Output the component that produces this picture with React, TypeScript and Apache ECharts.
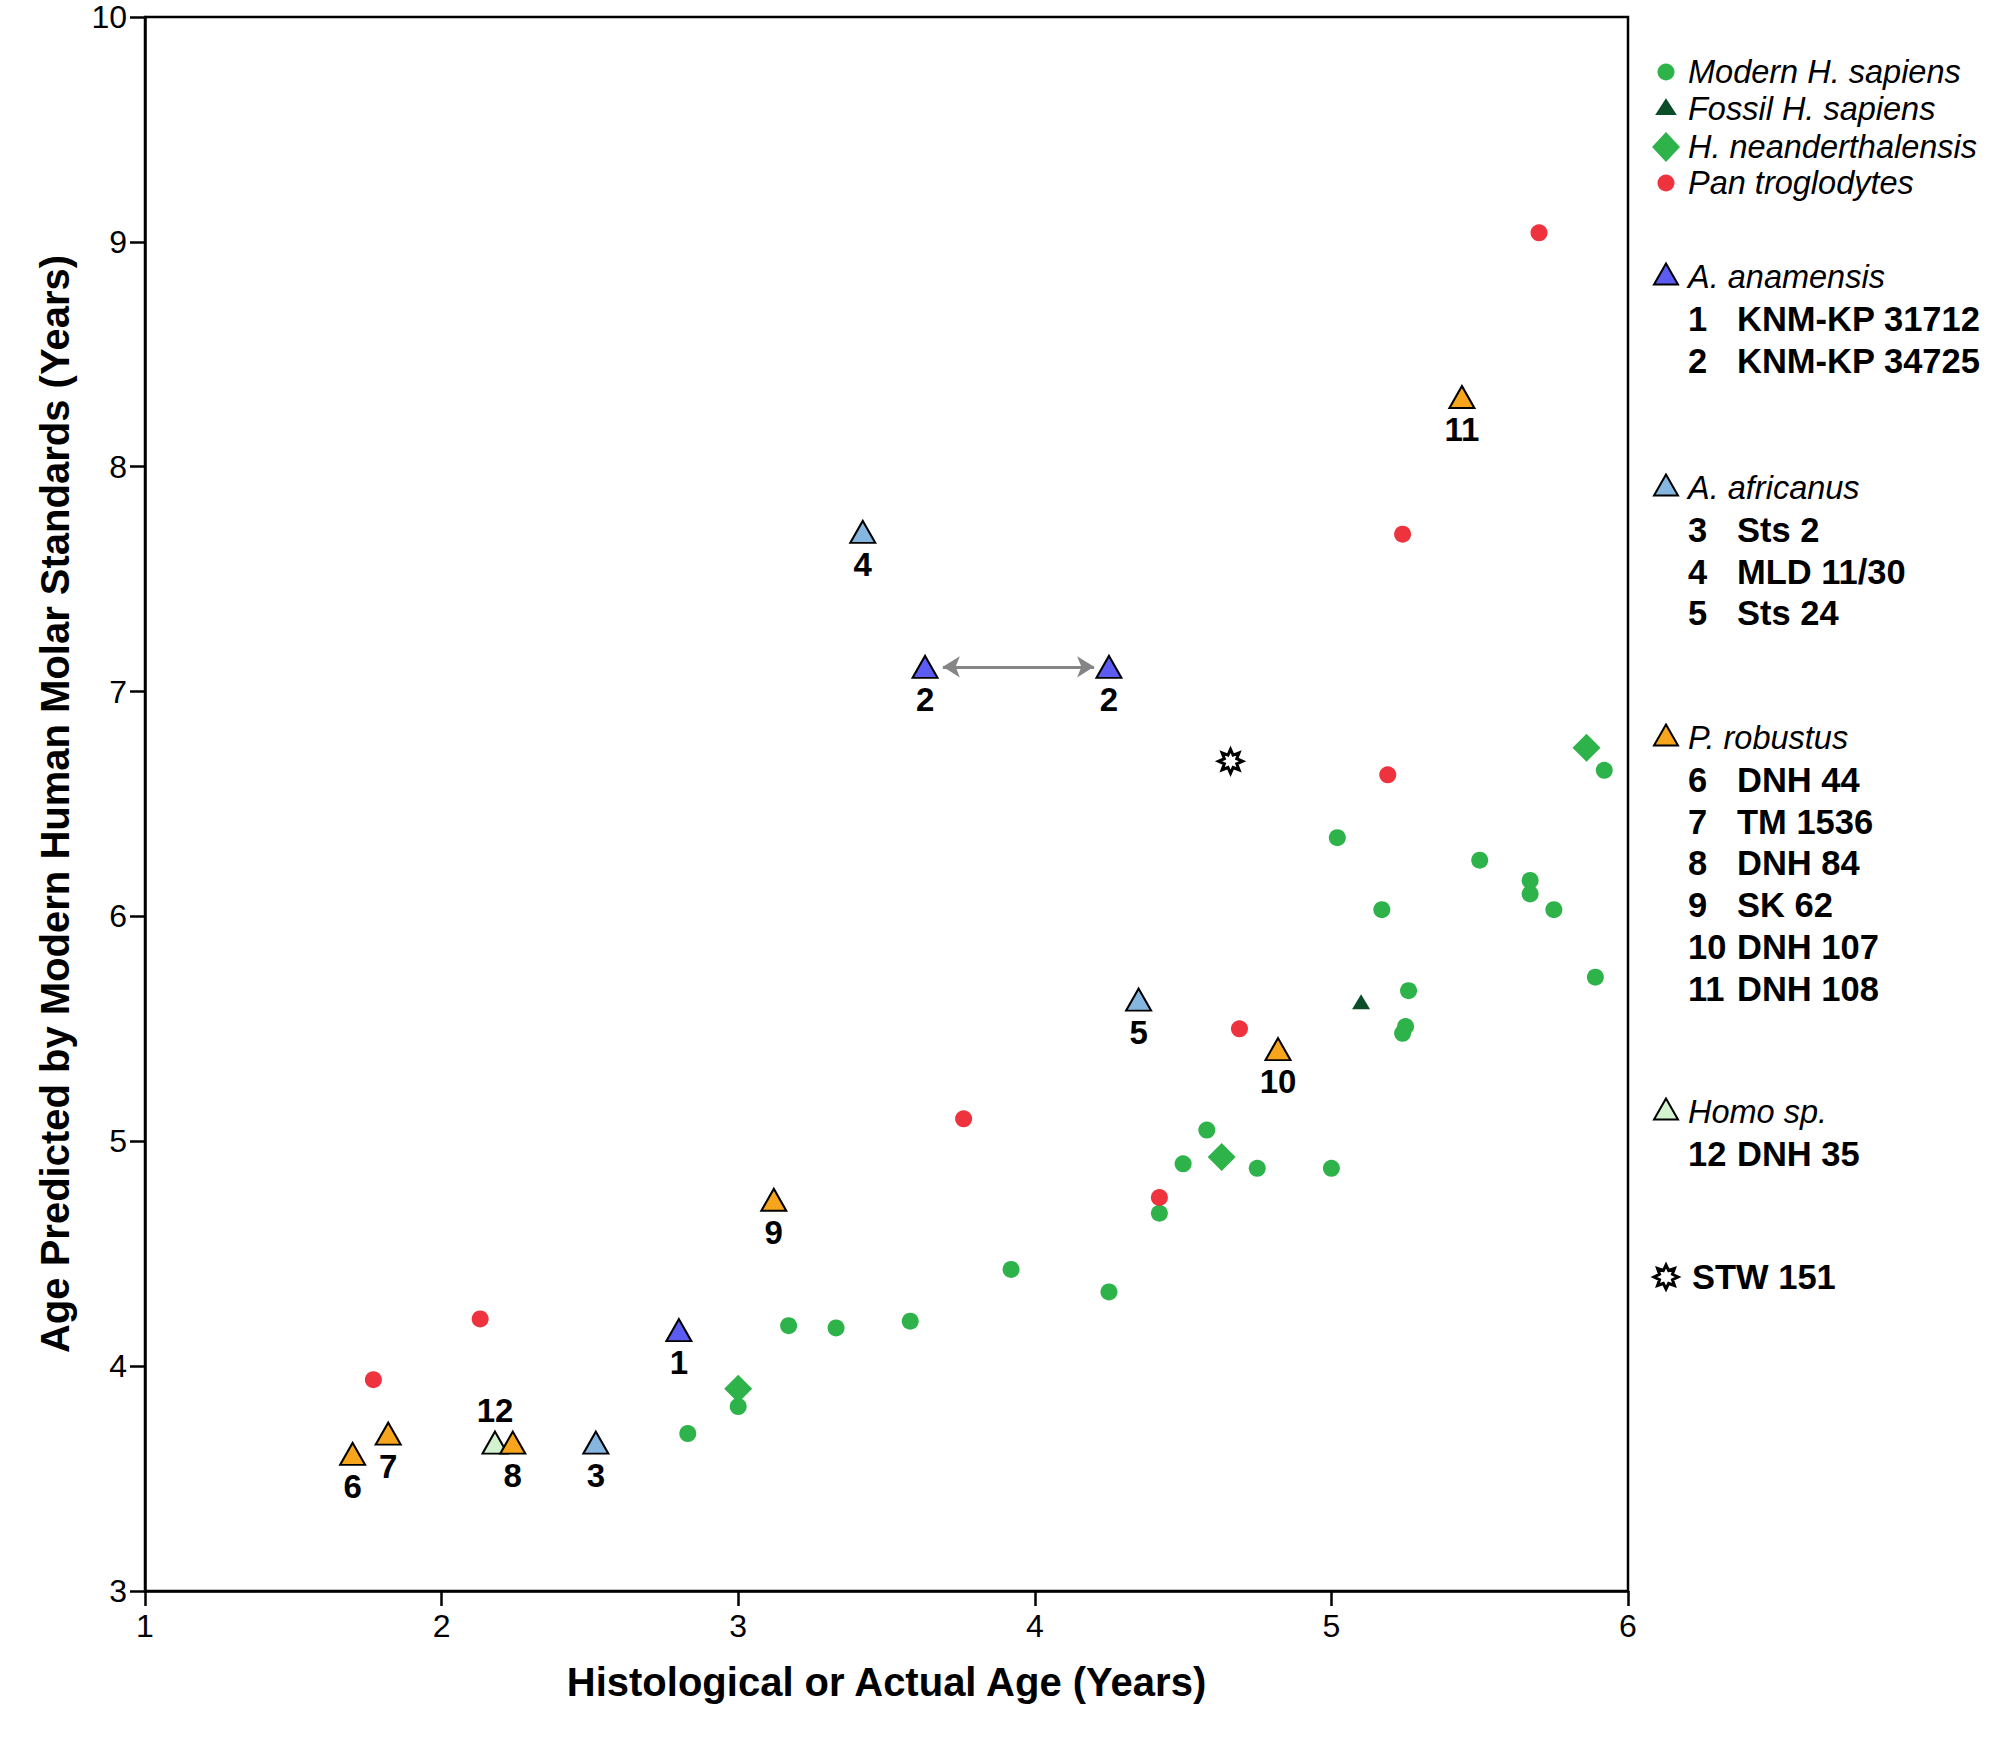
import { useEffect, useRef } from 'react';
import * as echarts from 'echarts';

const FONT = '"Liberation Sans", Arial, Helvetica, sans-serif';

// Modern H. sapiens
const modernX = [2.83, 3.0, 3.17, 3.33, 3.58, 3.92, 4.25, 4.42, 4.5, 4.58, 4.75, 5.0, 5.02, 5.17, 5.26, 5.25, 5.24, 5.5, 5.67, 5.67, 5.75, 5.89, 5.92];
const modernY = [3.7, 3.82, 4.18, 4.17, 4.2, 4.43, 4.33, 4.68, 4.9, 5.05, 4.88, 4.88, 6.35, 6.03, 5.67, 5.51, 5.48, 6.25, 6.16, 6.1, 6.03, 5.73, 6.65];
// Fossil H. sapiens
const fossilX = [5.1];
const fossilY = [5.62];
// H. neanderthalensis
const neanderX = [3.0, 4.63, 5.86];
const neanderY = [3.9, 4.93, 6.75];
// Pan troglodytes
const panX = [1.77, 2.13, 3.76, 4.42, 4.69, 5.19, 5.24, 5.7];
const panY = [3.94, 4.21, 5.1, 4.75, 5.5, 6.63, 7.7, 9.04];
// A. anamensis
const anamX = [2.8, 3.63, 4.25];
const anamY = [4.16, 7.11, 7.11];
const anamLabels = ['1', '2', '2'];
// A. africanus
const afrX = [2.52, 3.42, 4.35];
const afrY = [3.66, 7.71, 5.63];
const afrLabels = ['3', '4', '5'];
// P. robustus
const robX = [1.7, 1.82, 2.24, 3.12, 4.82, 5.44];
const robY = [3.61, 3.7, 3.66, 4.74, 5.41, 8.31];
const robLabels = ['6', '7', '8', '9', '10', '11'];
// Homo sp.
const homoX = [2.18];
const homoY = [3.66];
const homoLabels = ['12'];
// STW 151
const stwX = [4.66];
const stwY = [6.69];
// KNM-KP 34725 range (arrow)
const arrowX = [3.69, 4.2];
const arrowY = [7.11, 7.11];

const xTicks = [1, 6, 1]; // min, max, interval
const yTicks = [3, 10, 1];

// legend texts
const legendSpecies = ['Modern H. sapiens', 'Fossil H. sapiens', 'H. neanderthalensis', 'Pan troglodytes'];
const legendGroups = ['A. anamensis', 'A. africanus', 'P. robustus', 'Homo sp.'];
const groupNumbers = [['1', '2'], ['3', '4', '5'], ['6', '7', '8', '9', '10', '11'], ['12']];
const groupSpecimens = [
  ['KNM-KP 31712', 'KNM-KP 34725'],
  ['Sts 2', 'MLD 11/30', 'Sts 24'],
  ['DNH 44', 'TM 1536', 'DNH 84', 'SK 62', 'DNH 107', 'DNH 108'],
  ['DNH 35'],
];
const stwName = 'STW 151';

const C_MODERN = '#2eb34a';
const C_FOSSIL = '#0b4d28';
const C_PAN = '#ee333f';
const C_ANAM = '#5c5cf2';
const C_AFR = '#84b6e0';
const C_ROB = '#f7a51c';
const C_HOMO = '#d3f3cf';

const zip = (xs: number[], ys: number[]) => xs.map((x, i) => [x, ys[i]]);

function starPoints(cx: number, cy: number, r0: number, r1: number, n = 8) {
  const pts: number[][] = [];
  for (let i = 0; i < 2 * n; i++) {
    const a = (Math.PI * i) / n - Math.PI / 2;
    const r = i % 2 ? r1 : r0;
    pts.push([cx + r * Math.cos(a), cy + r * Math.sin(a)]);
  }
  return pts;
}
const starSymbol =
  'path://' +
  starPoints(50, 50, 50, 28)
    .map((p, i) => (i ? 'L' : 'M') + p[0].toFixed(2) + ',' + p[1].toFixed(2))
    .join('') +
  'Z';

function numLabel(labels: string[], position: string) {
  return {
    show: true,
    position,
    distance: 4,
    formatter: (p: any) => labels[p.dataIndex],
    fontSize: 33,
    fontWeight: 'bold',
    fontFamily: FONT,
    color: '#000',
    opacity: 1,
  };
}

function buildLegend() {
  const els: any[] = [];
  const SX = 1666;
  const TX = 1688;
  const NAMEX = 1737;
  const italic = (x: number, y: number, text: string) => ({
    type: 'text',
    style: { x, y, text, fontSize: 32.5, fontStyle: 'italic', fontFamily: FONT, fill: '#000', verticalAlign: 'middle' },
  });
  const bold = (x: number, y: number, text: string) => ({
    type: 'text',
    style: { x, y, text, fontSize: 34.5, fontWeight: 'bold', fontFamily: FONT, fill: '#000', verticalAlign: 'middle' },
  });
  const tri = (y: number, w: number, h: number, fill: string, stroke: string) => ({
    type: 'polygon',
    shape: { points: [[SX, y - h / 2], [SX - w / 2, y + h / 2], [SX + w / 2, y + h / 2]] },
    style: { fill, stroke, lineWidth: 2 },
  });

  const speciesY = [72, 109, 147, 183];
  els.push({ type: 'circle', shape: { cx: SX, cy: speciesY[0], r: 8.5 }, style: { fill: C_MODERN } });
  els.push(tri(speciesY[1] - 2, 18, 14, C_FOSSIL, C_FOSSIL));
  els.push({
    type: 'polygon',
    shape: { points: [[SX, speciesY[2] - 15], [SX + 14, speciesY[2]], [SX, speciesY[2] + 15], [SX - 14, speciesY[2]]] },
    style: { fill: C_MODERN },
  });
  els.push({ type: 'circle', shape: { cx: SX, cy: speciesY[3], r: 8.5 }, style: { fill: C_PAN } });
  legendSpecies.forEach((t, i) => els.push(italic(TX, speciesY[i], t)));

  const groupY = [277, 488, 738, 1112];
  const groupColors = [C_ANAM, C_AFR, C_ROB, C_HOMO];
  const step = 41.8;
  legendGroups.forEach((g, gi) => {
    const y0 = groupY[gi];
    els.push(tri(y0 - 3, 24, 21, groupColors[gi], '#000'));
    els.push(italic(TX, y0, g));
    groupNumbers[gi].forEach((n, k) => {
      const y = y0 + step * (k + 1);
      els.push(bold(TX, y, n));
      els.push(bold(NAMEX, y, groupSpecimens[gi][k]));
    });
  });

  const stwYpos = 1277;
  els.push({
    type: 'polygon',
    shape: { points: starPoints(SX, stwYpos, 12, 7) },
    style: { fill: '#fff', stroke: '#000', lineWidth: 3 },
  });
  els.push(bold(1692, stwYpos, stwName));
  return els;
}

export default function App() {
  const ref = useRef<HTMLDivElement>(null);

  useEffect(() => {
    if (!ref.current) return;
    const chart = echarts.init(ref.current, null, { renderer: 'svg' });

    const axisCommon = {
      type: 'value',
      nameLocation: 'middle',
      nameTextStyle: { fontSize: 40, fontWeight: 'bold', fontFamily: FONT, color: '#000' },
      axisLine: { show: true, onZero: false, lineStyle: { color: '#000', width: 2.5 } },
      axisTick: { show: true, length: 15, lineStyle: { color: '#000', width: 2.5 } },
      splitLine: { show: false },
    };

    const triStyle = (color: string) => ({ color, borderColor: '#000', borderWidth: 2, opacity: 1 });

    chart.setOption({
      animation: false,
      backgroundColor: '#fff',
      grid: { left: 145, top: 17, right: 372, bottom: 146, show: true, borderColor: '#000', borderWidth: 2.5 },
      xAxis: {
        ...axisCommon,
        min: xTicks[0],
        max: xTicks[1],
        interval: xTicks[2],
        name: 'Histological or Actual Age (Years)',
        nameGap: 71,
        axisLabel: { fontSize: 32, fontFamily: FONT, color: '#000', margin: 19 },
      },
      yAxis: {
        ...axisCommon,
        min: yTicks[0],
        max: yTicks[1],
        interval: yTicks[2],
        name: 'Age Predicted by Modern Human Molar Standards (Years)',
        nameGap: 70,
        axisLabel: { fontSize: 32, fontFamily: FONT, color: '#000', margin: 18 },
      },
      graphic: buildLegend(),
      series: [
        {
          name: 'Modern H. sapiens',
          type: 'scatter',
          symbol: 'circle',
          symbolSize: 17,
          itemStyle: { color: C_MODERN, opacity: 1 },
          data: zip(modernX, modernY),
        },
        {
          name: 'Pan troglodytes',
          type: 'scatter',
          symbol: 'circle',
          symbolSize: 17,
          itemStyle: { color: C_PAN, opacity: 1 },
          data: zip(panX, panY),
        },
        {
          name: 'Fossil H. sapiens',
          type: 'scatter',
          symbol: 'triangle',
          symbolSize: [18, 15],
          itemStyle: { color: C_FOSSIL, opacity: 1 },
          data: zip(fossilX, fossilY),
        },
        {
          name: 'H. neanderthalensis',
          type: 'scatter',
          symbol: 'diamond',
          symbolSize: 28,
          itemStyle: { color: C_MODERN, opacity: 1 },
          data: zip(neanderX, neanderY),
        },
        {
          name: 'Homo sp.',
          type: 'scatter',
          symbol: 'triangle',
          symbolSize: [25, 22],
          itemStyle: triStyle(C_HOMO),
          label: numLabel(homoLabels, 'top'),
          data: zip(homoX, homoY),
        },
        {
          name: 'A. anamensis',
          type: 'scatter',
          symbol: 'triangle',
          symbolSize: [25, 22],
          itemStyle: triStyle(C_ANAM),
          label: numLabel(anamLabels, 'bottom'),
          data: zip(anamX, anamY),
          markLine: {
            silent: true,
            symbol: ['arrow', 'arrow'],
            symbolSize: [16, 17],
            label: { show: false },
            lineStyle: { color: '#858585', width: 3, type: 'solid', opacity: 1 },
            data: [[{ coord: [arrowX[0], arrowY[0]] }, { coord: [arrowX[1], arrowY[1]] }]],
          },
        },
        {
          name: 'A. africanus',
          type: 'scatter',
          symbol: 'triangle',
          symbolSize: [25, 22],
          itemStyle: triStyle(C_AFR),
          label: numLabel(afrLabels, 'bottom'),
          data: zip(afrX, afrY),
        },
        {
          name: 'P. robustus',
          type: 'scatter',
          symbol: 'triangle',
          symbolSize: [25, 22],
          itemStyle: triStyle(C_ROB),
          label: numLabel(robLabels, 'bottom'),
          data: zip(robX, robY),
        },
        {
          name: 'STW 151',
          type: 'scatter',
          symbol: starSymbol,
          symbolSize: 24,
          itemStyle: { color: '#fff', borderColor: '#000', borderWidth: 3, opacity: 1 },
          data: zip(stwX, stwY),
        },
      ],
    });

    return () => chart.dispose();
  }, []);

  return (
    <div
      ref={ref}
      style={{ position: 'fixed', left: 0, top: 0, width: 2000, height: 1737, background: '#fff' }}
    />
  );
}
